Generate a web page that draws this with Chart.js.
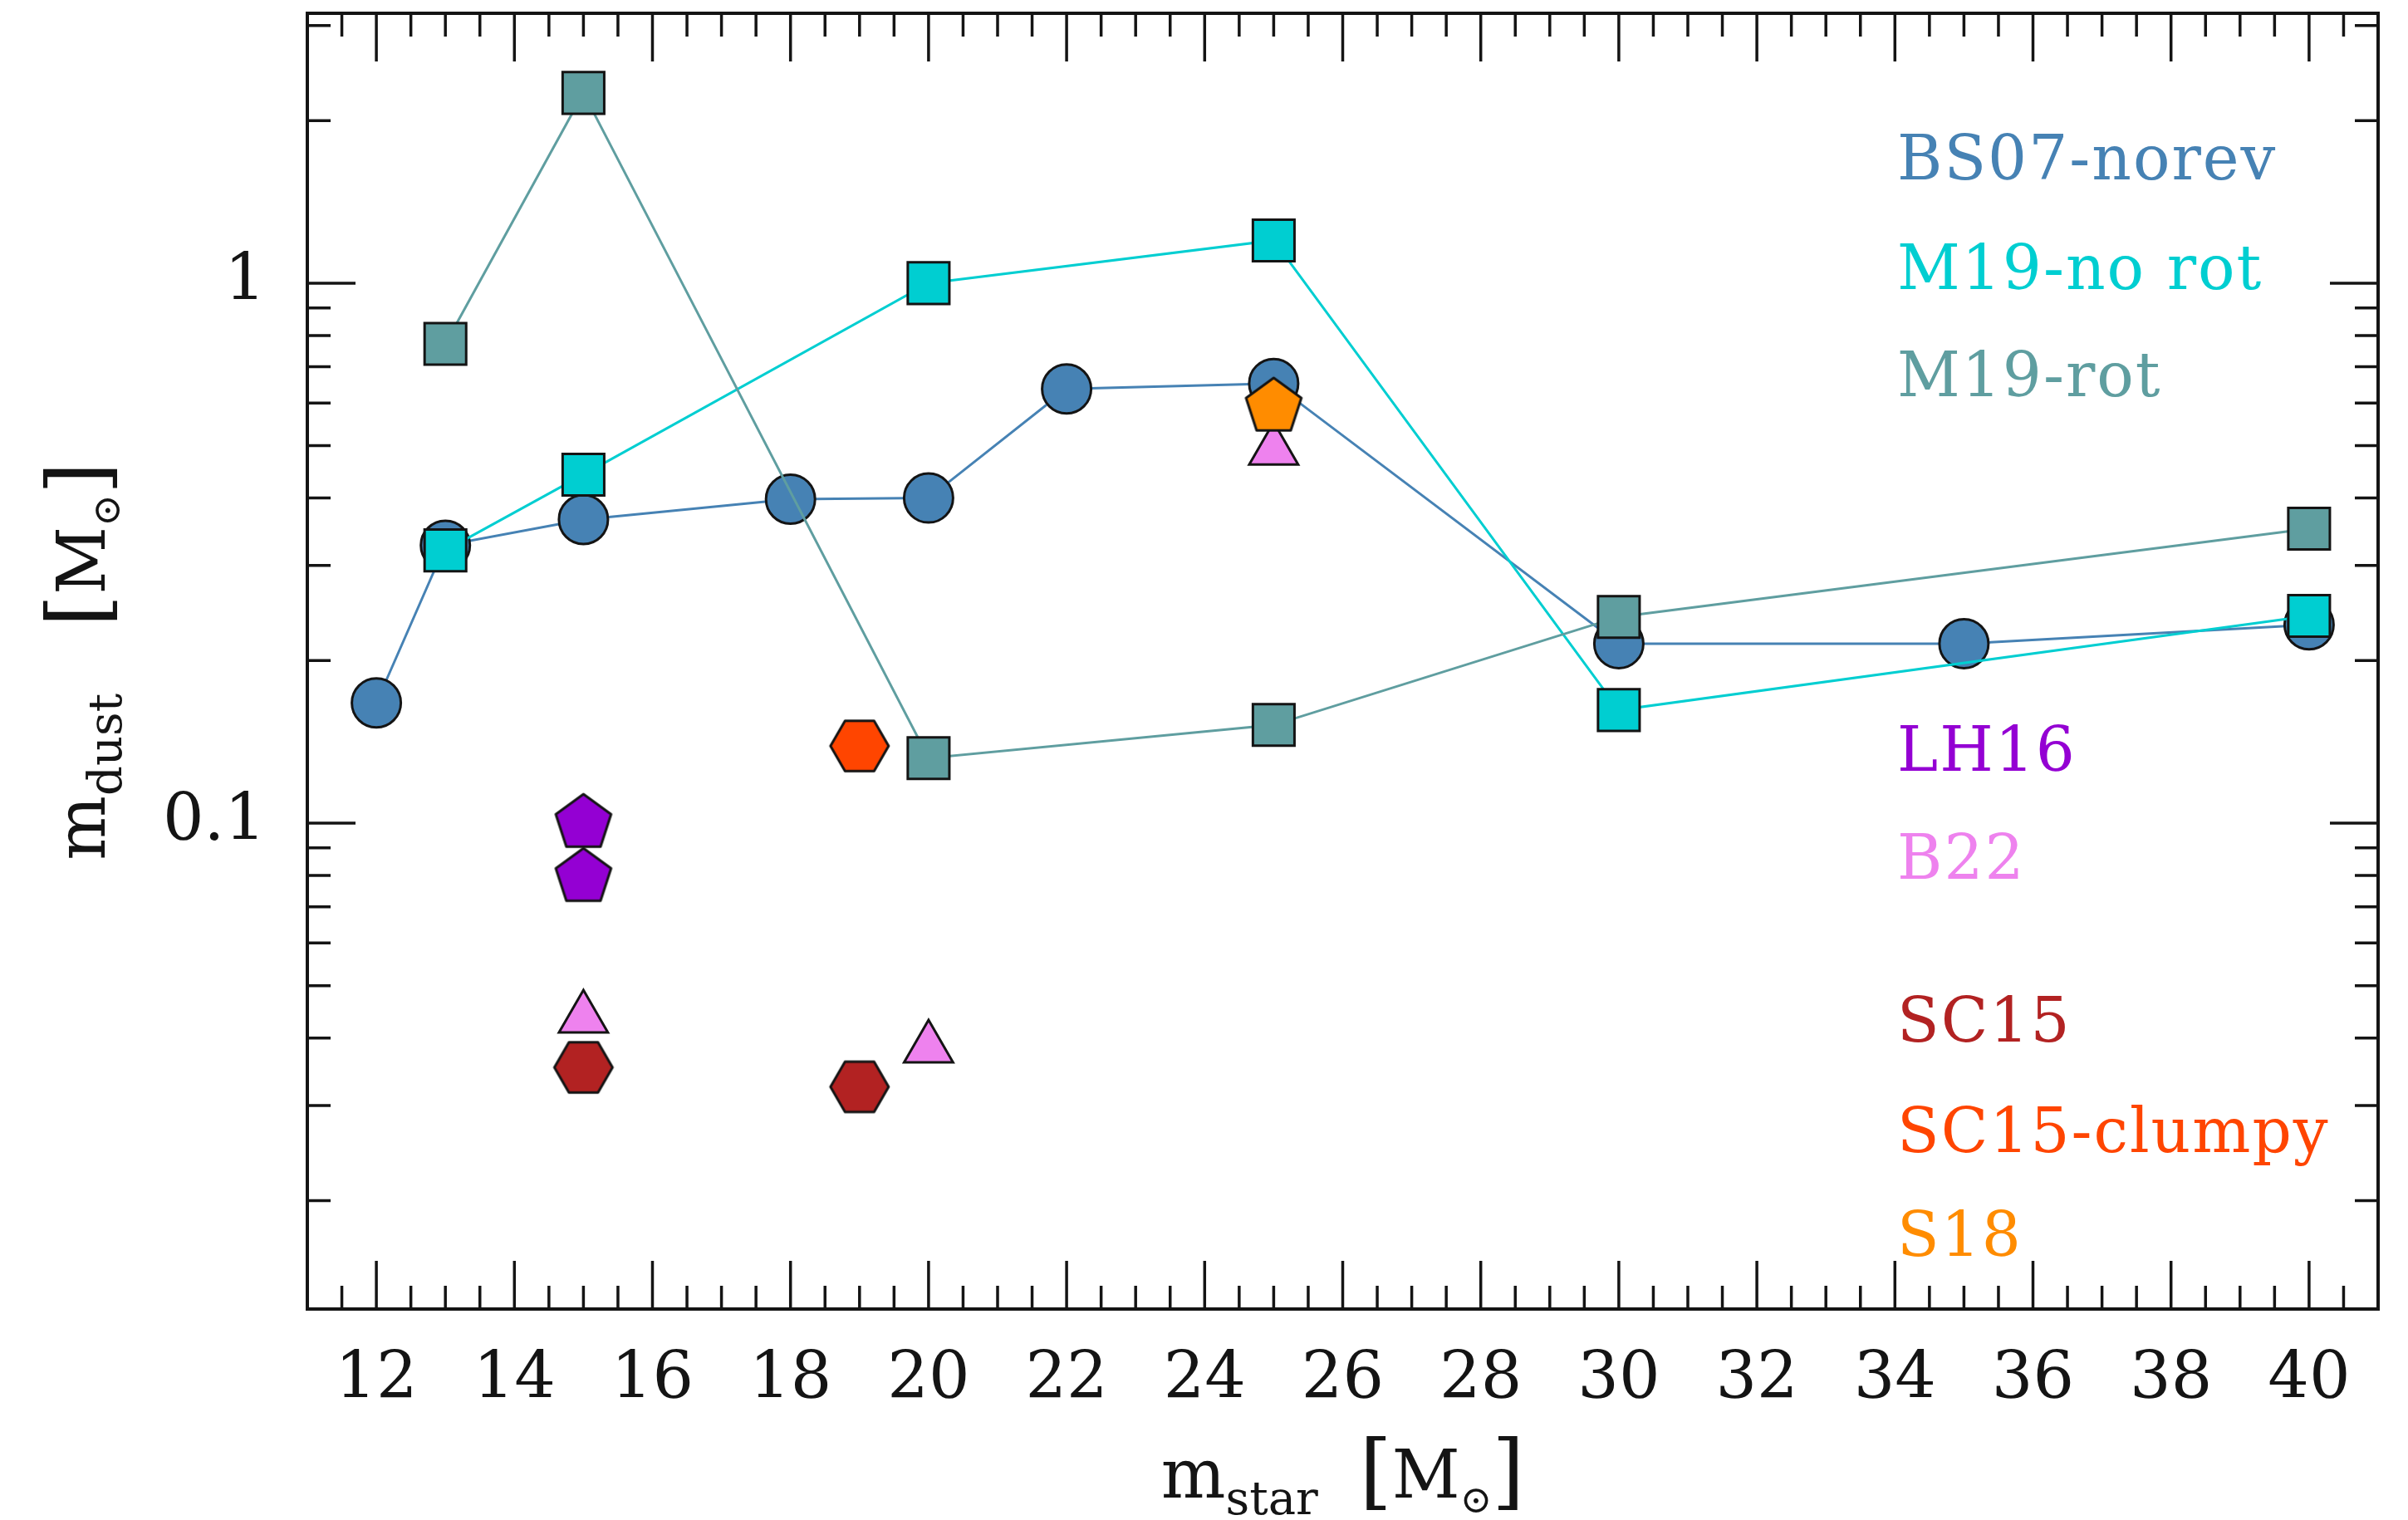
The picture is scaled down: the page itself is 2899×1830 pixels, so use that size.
<!DOCTYPE html>
<html>
<head>
<meta charset="utf-8">
<script src="https://cdn.jsdelivr.net/npm/chart.js@4.4.1/dist/chart.umd.min.js"></script>
<style>
  html, body { margin: 0; padding: 0; background: #ffffff; }
  #wrap { width: 2899px; height: 1830px; position: relative; }
</style>
</head>
<body>
<div id="wrap"><canvas id="chart"></canvas></div>
<script>
// Progenitor mass [Msun] vs. dust mass [Msun] for each model set
const bs07Mass     = [12, 13, 15, 18, 20, 22, 25, 30, 35, 40];
const bs07Dust     = [0.167, 0.327, 0.365, 0.398, 0.40, 0.637, 0.652, 0.215, 0.215, 0.233];

const m19NoRotMass = [13, 15, 20, 25, 30, 40];
const m19NoRotDust = [0.320, 0.442, 1.0, 1.2, 0.162, 0.242];

const m19RotMass   = [13, 15, 20, 25, 30, 40];
const m19RotDust   = [0.772, 2.25, 0.132, 0.152, 0.241, 0.351];

const lh16Mass     = [15, 15];
const lh16Dust     = [0.100, 0.0794];

const b22Mass      = [15, 20, 25];
const b22Dust      = [0.0435, 0.0383, 0.49];

const sc15Mass     = [15, 19];
const sc15Dust     = [0.0353, 0.0325];

const sc15ClumpyMass = [19];
const sc15ClumpyDust = [0.139];

const s18Mass      = [25];
const s18Dust      = [0.59];

const seriesNames  = ['BS07-norev', 'M19-no rot', 'M19-rot', 'LH16', 'B22', 'SC15', 'SC15-clumpy', 'S18'];
const seriesColors = ['#4682B4', '#00CED1', '#5F9EA0', '#9400D3', '#EE82EE', '#B22222', '#FF4500', '#FF8C00'];

const xTickValues = [12, 14, 16, 18, 20, 22, 24, 26, 28, 30, 32, 34, 36, 38, 40];
const yTickValues = [0.1, 1];
const xMin = 11, xMax = 41;
const yMin = 0.0126, yMax = 3.16;

const SERIF = '"DejaVu Serif", "Liberation Serif", serif';
const INK = '#141414';

const pts = (xs, ys) => xs.map((x, i) => ({ x: x, y: ys[i] }));

// Regular polygon marker drawn on a small canvas (used as a point style)
function polygonMarker(sides, radius, startAngle, fill) {
  const lw = 3;
  const half = Math.ceil(radius + lw) + 1;
  const cv = document.createElement('canvas');
  cv.width = half * 2; cv.height = half * 2;
  const g = cv.getContext('2d');
  g.beginPath();
  for (let i = 0; i < sides; i++) {
    const a = startAngle + i * 2 * Math.PI / sides;
    const px = half + radius * Math.cos(a), py = half + radius * Math.sin(a);
    if (i === 0) g.moveTo(px, py); else g.lineTo(px, py);
  }
  g.closePath();
  g.fillStyle = fill; g.fill();
  g.lineWidth = lw; g.lineJoin = 'round'; g.strokeStyle = INK; g.stroke();
  return cv;
}

const pentagon = c => polygonMarker(5, 35, -Math.PI / 2, c);
const hexagon  = c => polygonMarker(6, 35, 0, c);

function lineSeries(i, xs, ys, style, radius, order) {
  return {
    label: seriesNames[i], data: pts(xs, ys), showLine: true,
    borderColor: seriesColors[i], borderWidth: 3, tension: 0,
    pointStyle: style, pointRadius: radius, pointHoverRadius: radius,
    pointBackgroundColor: seriesColors[i], pointBorderColor: INK, pointBorderWidth: 3,
    order: order
  };
}
function markerSeries(i, xs, ys, style, radius, order) {
  return {
    label: seriesNames[i], data: pts(xs, ys), showLine: false,
    pointStyle: style, pointRadius: radius, pointHoverRadius: radius,
    pointBackgroundColor: seriesColors[i], pointBorderColor: INK, pointBorderWidth: 3,
    order: order
  };
}

const datasets = [
  lineSeries(0, bs07Mass, bs07Dust, 'circle', 29.5, 10),
  lineSeries(1, m19NoRotMass, m19NoRotDust, 'rect', 35.4, 9),
  lineSeries(2, m19RotMass, m19RotDust, 'rect', 35.4, 8),
  markerSeries(4, b22Mass, b22Dust, 'triangle', 34, 7),
  markerSeries(7, s18Mass, s18Dust, pentagon(seriesColors[7]), 36, 6),
  markerSeries(3, lh16Mass, lh16Dust, pentagon(seriesColors[3]), 36, 5),
  markerSeries(5, sc15Mass, sc15Dust, hexagon(seriesColors[5]), 36, 4),
  markerSeries(6, sc15ClumpyMass, sc15ClumpyDust, hexagon(seriesColors[6]), 36, 3)
];

// Frame with inward major/minor ticks on all four sides
const framePlugin = {
  id: 'frame',
  beforeDatasetsDraw(chart) {
    const { ctx, chartArea: a, scales: { x, y } } = chart;
    ctx.save();
    ctx.strokeStyle = INK;
    ctx.lineCap = 'butt';
    const majorLen = 58, minorLen = 28;
    ctx.lineWidth = 3.5;
    const xTicks = [];
    for (let v = xMin + 0.5; v < xMax; v += 0.5) {
      xTicks.push({ v: v, len: (Math.abs(v % 2) < 1e-9) ? majorLen : minorLen });
    }
    xTicks.forEach(t => {
      const px = x.getPixelForValue(t.v);
      ctx.beginPath();
      ctx.moveTo(px, a.bottom); ctx.lineTo(px, a.bottom - t.len);
      ctx.moveTo(px, a.top); ctx.lineTo(px, a.top + t.len);
      ctx.stroke();
    });
    const yTicks = [];
    [0.01, 0.1, 1].forEach(dec => {
      for (let k = 1; k <= 9; k++) {
        const v = k * dec;
        if (v >= yMin && v <= yMax) yTicks.push({ v: v, len: k === 1 ? majorLen : minorLen });
      }
    });
    yTicks.forEach(t => {
      const py = y.getPixelForValue(t.v);
      ctx.beginPath();
      ctx.moveTo(a.left, py); ctx.lineTo(a.left + t.len, py);
      ctx.moveTo(a.right, py); ctx.lineTo(a.right - t.len, py);
      ctx.stroke();
    });
    ctx.lineWidth = 4;
    ctx.strokeRect(a.left, a.top, a.right - a.left, a.bottom - a.top);
    ctx.restore();
  }
};

// Draws a run of text pieces with subscripts, centred on cx
function drawMath(ctx, parts, cx, baseY) {
  let total = 0;
  parts.forEach(p => {
    ctx.font = p.size + 'px ' + SERIF;
    p.w = ctx.measureText(p.text).width;
    total += (p.gap || 0) + p.w;
  });
  let xPos = cx - total / 2;
  ctx.textAlign = 'left';
  ctx.textBaseline = 'alphabetic';
  parts.forEach(p => {
    xPos += (p.gap || 0);
    ctx.font = p.size + 'px ' + SERIF;
    ctx.fillText(p.text, xPos, baseY + (p.dy || 0));
    xPos += p.w;
  });
}

const titlesPlugin = {
  id: 'titles',
  afterDraw(chart) {
    const { ctx, chartArea: a } = chart;
    ctx.save();
    ctx.fillStyle = INK;
    // x-axis title
    drawMath(ctx, [
      { text: 'm', size: 82 },
      { text: 'star', size: 56, dy: 20 },
      { text: '[', size: 100, gap: 50, dy: 2 },
      { text: 'M', size: 80 },
      { text: '\u2299', size: 46, dy: 18 },
      { text: ']', size: 100, dy: 2 }
    ], (a.left + a.right) / 2, 1803);
    // y-axis title (rotated)
    ctx.translate(126, (a.top + a.bottom) / 2);
    ctx.rotate(-Math.PI / 2);
    drawMath(ctx, [
      { text: 'm', size: 82 },
      { text: 'dust', size: 56, dy: 20 },
      { text: '[', size: 100, gap: 80, dy: 2 },
      { text: 'M', size: 80 },
      { text: '\u2299', size: 46, dy: 18 },
      { text: ']', size: 100, dy: 2 }
    ], 0, 0);
    ctx.restore();
  }
};

// Coloured series names inside the plotting area
const namesPlugin = {
  id: 'names',
  afterDraw(chart) {
    const { ctx } = chart;
    const baselines = [216, 348, 477, 928, 1058, 1254, 1387, 1512];
    ctx.save();
    ctx.font = '74px ' + SERIF;
    ctx.letterSpacing = '2px';
    ctx.textAlign = 'left';
    ctx.textBaseline = 'alphabetic';
    seriesNames.forEach((name, i) => {
      ctx.fillStyle = seriesColors[i];
      ctx.fillText(name, 2284, baselines[i]);
    });
    ctx.restore();
  }
};

new Chart(document.getElementById('chart'), {
  type: 'scatter',
  data: { datasets: datasets },
  options: {
    responsive: true,
    maintainAspectRatio: false,
    animation: false,
    devicePixelRatio: 1,
    events: [],
    layout: { autoPadding: false, padding: { top: 16, right: 36, left: 0, bottom: 0 } },
    plugins: { legend: { display: false }, tooltip: { enabled: false } },
    scales: {
      x: {
        type: 'linear', min: xMin, max: xMax,
        afterFit: s => { s.height = 254; s.paddingLeft = 0; s.paddingRight = 0; s.paddingTop = 0; s.paddingBottom = 0; },
        afterBuildTicks: s => { s.ticks = xTickValues.map(v => ({ value: v })); },
        grid: { display: false, drawTicks: false },
        border: { display: false },
        ticks: {
          font: { family: SERIF, size: 78 }, color: INK, padding: 40,
          minRotation: 0, maxRotation: 0, autoSkip: false,
          callback: v => String(v)
        }
      },
      y: {
        type: 'logarithmic', min: yMin, max: yMax,
        afterFit: s => { s.width = 370; s.paddingTop = 0; s.paddingBottom = 0; s.paddingLeft = 0; s.paddingRight = 0; },
        afterBuildTicks: s => { s.ticks = yTickValues.map(v => ({ value: v })); },
        grid: { display: false, drawTicks: false },
        border: { display: false },
        ticks: {
          font: { family: SERIF, size: 78 }, color: INK, padding: 50,
          autoSkip: false,
          callback: v => String(v)
        }
      }
    }
  },
  plugins: [framePlugin, titlesPlugin, namesPlugin]
});
</script>
</body>
</html>
